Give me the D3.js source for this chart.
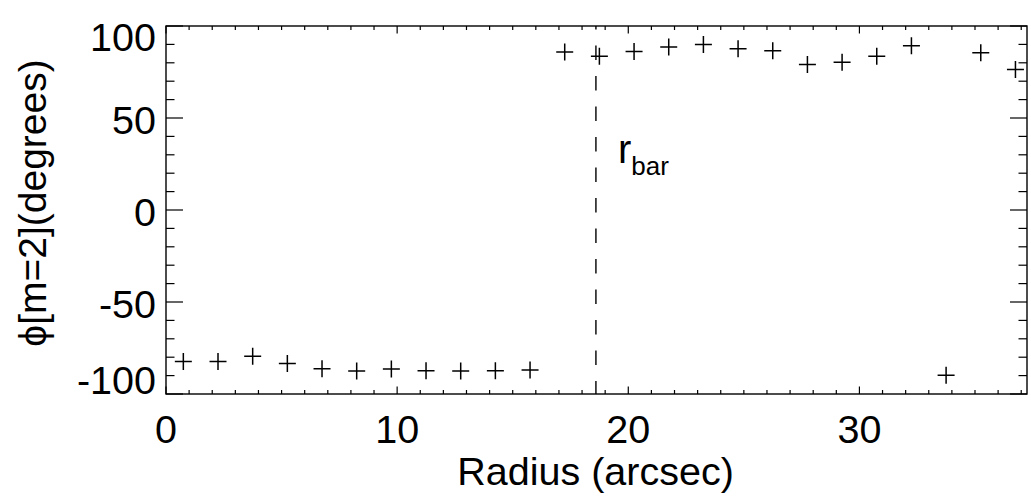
<!doctype html>
<html lang="en">
  <head>
    <meta charset="utf-8">
    <title>Bar phase vs radius</title>
    <style>
      body { margin: 0; background: #fff; }
      svg text { font-family: "Liberation Sans", Arial, Helvetica, sans-serif; fill: #000; }
    </style>
  </head>
  <body>
    <div id="chart"></div>

    <script src="https://cdn.jsdelivr.net/npm/d3@7"></script>
    <script>
      // data
      const radius = [0.75, 2.25, 3.75, 5.25, 6.75, 8.25, 9.75, 11.25, 12.75, 14.25, 15.75,
                      17.25, 18.75, 20.25, 21.75, 23.25, 24.75, 26.25, 27.75, 29.25, 30.75,
                      32.25, 33.75, 35.25, 36.75];
      const phase = [-82.4, -82.4, -79.5, -83.4, -86.3, -87.5, -86.4, -87.3, -87.5, -87.3, -86.9,
                     85.9, 83.5, 86.2, 88.6, 89.9, 87.6, 86.5, 79.1, 80.3, 83.6,
                     89.3, -89.8, 85.5, 76.3];
      const xTicks = [0, 10, 20, 30];
      const yTicks = [-100, -50, 0, 50, 100];
      const rBar = 18.6;

      const width = 1031, height = 500;
      const plot = {left: 166, right: 1027, top: 26, bottom: 394};

      const svg = d3.select("#chart").append("svg")
        .attr("width", width)
        .attr("height", height);

      const x = d3.scaleLinear().domain([0, 37.25]).range([plot.left, plot.right]);
      const y = d3.scaleLinear().domain([-100, 100]).range([plot.bottom, plot.top]);

      const minorX = d3.range(0, 38, 1);
      const minorY = d3.range(-100, 101, 10);

      // frame
      svg.append("rect")
        .attr("x", plot.left).attr("y", plot.top)
        .attr("width", plot.right - plot.left).attr("height", plot.bottom - plot.top)
        .attr("fill", "none").attr("stroke", "#000").attr("stroke-width", 1.4);

      const ticks = svg.append("g").attr("stroke", "#000").attr("stroke-width", 1.2);

      // x ticks, bottom and top, pointing inwards
      minorX.forEach(v => {
        const len = xTicks.includes(v) ? 7.5 : 4;
        ticks.append("line").attr("x1", x(v)).attr("x2", x(v))
          .attr("y1", plot.bottom).attr("y2", plot.bottom - len);
        ticks.append("line").attr("x1", x(v)).attr("x2", x(v))
          .attr("y1", plot.top).attr("y2", plot.top + len);
      });
      // y ticks, left and right
      minorY.forEach(v => {
        const len = yTicks.includes(v) ? 17 : 8.5;
        ticks.append("line").attr("y1", y(v)).attr("y2", y(v))
          .attr("x1", plot.left).attr("x2", plot.left + len);
        ticks.append("line").attr("y1", y(v)).attr("y2", y(v))
          .attr("x1", plot.right).attr("x2", plot.right - len);
      });

      // x labels
      svg.append("g").selectAll("text")
        .data(xTicks)
        .enter().append("text")
        .attr("x", d => x(d))
        .attr("y", 443)
        .attr("text-anchor", "middle")
        .attr("font-size", 39.5)
        .text(d => String(d));

      // y labels (end labels pushed inside like the original)
      svg.append("g").selectAll("text")
        .data(yTicks)
        .enter().append("text")
        .attr("x", 156)
        .attr("y", d => y(d) + 2 + (d === 100 ? 9 : d === -100 ? -16 : 0))
        .attr("dy", "0.35em")
        .attr("text-anchor", "end")
        .attr("font-size", 39.5)
        .text(d => String(d));

      // axis titles
      svg.append("text")
        .attr("x", 595.5).attr("y", 485)
        .attr("text-anchor", "middle")
        .attr("font-size", 39.5)
        .text("Radius (arcsec)");

      svg.append("text")
        .attr("transform", "translate(46,203) rotate(-90)")
        .attr("text-anchor", "middle")
        .attr("font-size", 39)
        .text("ϕ[m=2](degrees)");

      // bar radius marker
      svg.append("line")
        .attr("x1", x(rBar)).attr("x2", x(rBar))
        .attr("y1", plot.top).attr("y2", plot.bottom)
        .attr("stroke", "#000").attr("stroke-width", 1.4)
        .attr("stroke-dasharray", "14.5,16")
        .attr("stroke-dashoffset", 11);

      const lab = svg.append("text")
        .attr("x", x(rBar) + 22).attr("y", 163)
        .attr("font-size", 40);
      lab.append("tspan").text("r");
      lab.append("tspan").attr("font-size", 26).attr("dy", 12).text("bar");

      // plus symbols
      const pts = radius.map((r, i) => ({r: r, p: phase[i]}));
      const s = 8.5;
      svg.append("g").attr("stroke", "#000").attr("stroke-width", 1.5)
        .selectAll("path")
        .data(pts)
        .enter().append("path")
        .attr("d", d => {
          const cx = x(d.r), cy = y(d.p);
          return "M" + (cx - s) + "," + cy + "H" + (cx + s) + "M" + cx + "," + (cy - s) + "V" + (cy + s);
        });
    </script>
  </body>
</html>
